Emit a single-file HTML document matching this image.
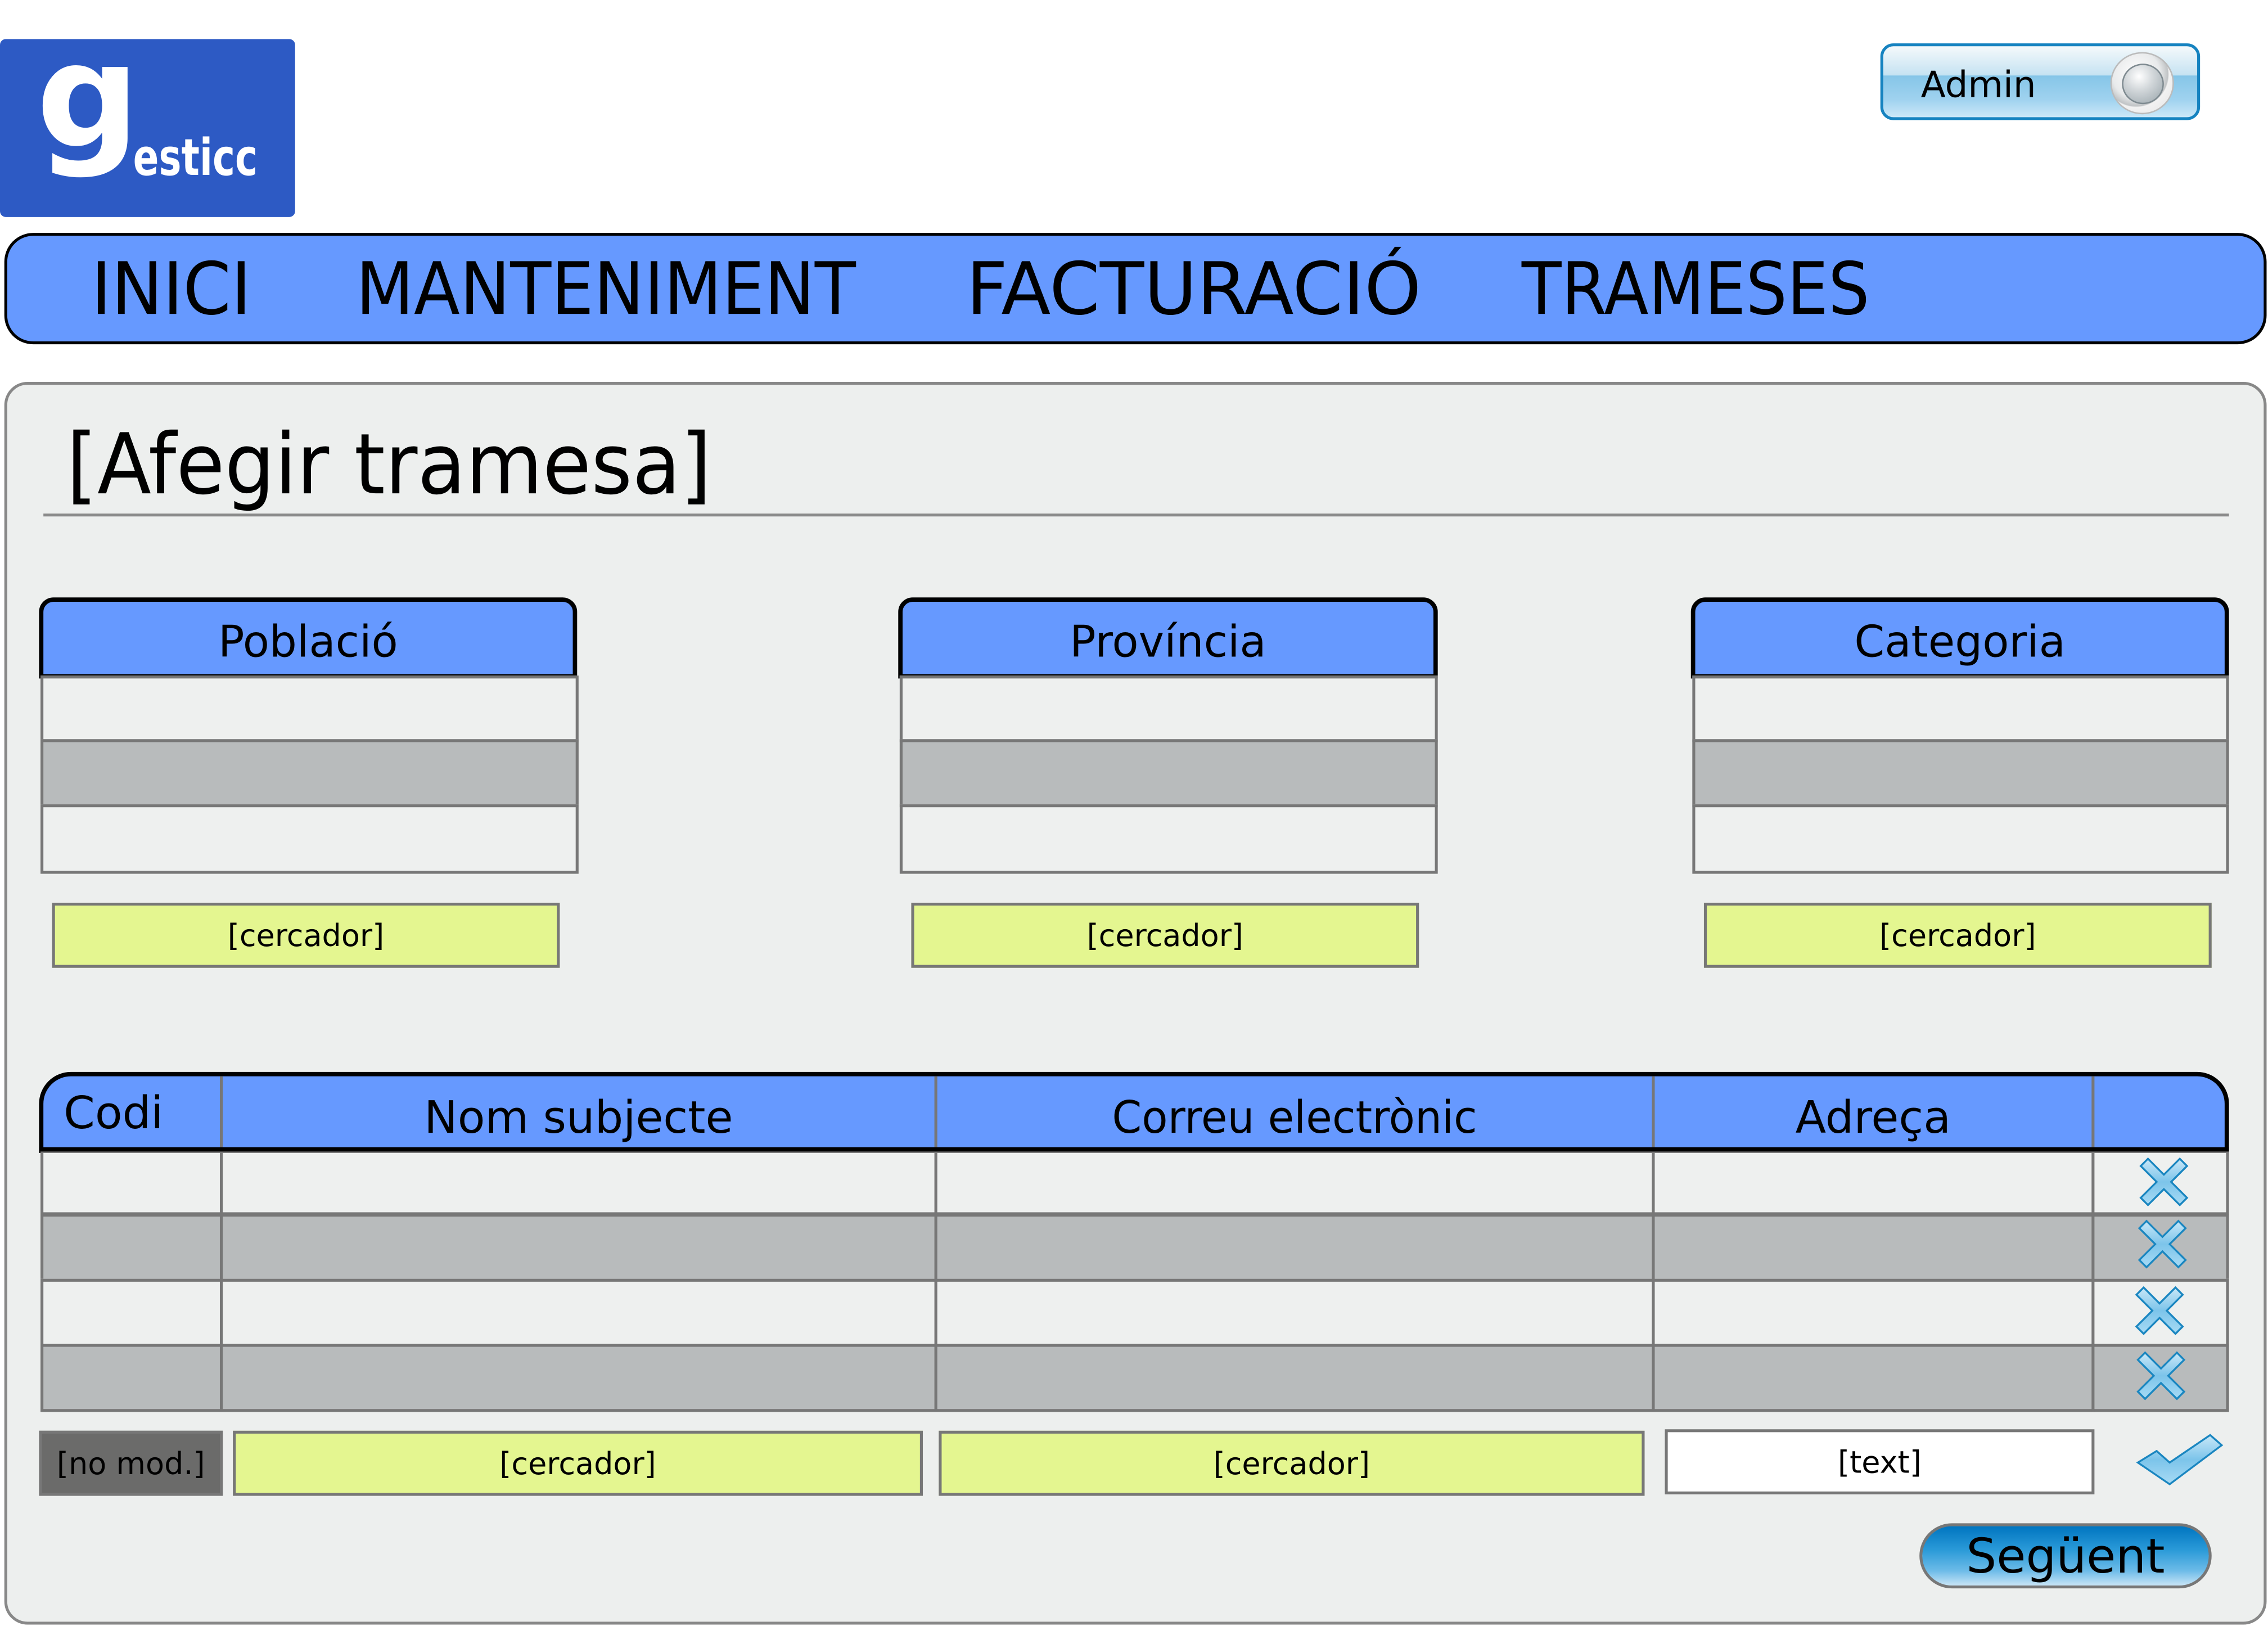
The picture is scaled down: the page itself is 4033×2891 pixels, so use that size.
<!DOCTYPE html>
<html><head><meta charset="utf-8">
<style>
html,body{margin:0;padding:0;background:#fff;}
body{width:4033px;height:2890px;overflow:hidden;position:relative;}
#w{position:absolute;left:0;top:0;width:1568px;height:1124px;transform:scale(2.5721);transform-origin:0 0;font-family:"DejaVu Sans","Liberation Sans",sans-serif;color:#000;}
.a{position:absolute;box-sizing:border-box;}
.t{position:absolute;white-space:nowrap;line-height:1;}
.hdr{background:#6699ff;border:3px solid #000;border-bottom:3px solid #000;border-radius:10px 10px 0 0;padding-top:6px;}
.row{background:#eef0ef;border:2px solid #777;}
.g{background:#b8bbbc;}
.yel{background:#e4f690;border:2px solid #777;display:flex;align-items:center;justify-content:center;font-size:21px;}
.ctr{display:flex;align-items:center;justify-content:center;}
</style></head><body>
<div id="w">
<!-- logo -->
<div class="a" style="left:0;top:27px;width:204px;height:123px;background:#2d5ac4;border-radius:4px;"></div>
<div class="t" style="left:25px;top:17px;font-size:100px;font-weight:bold;color:#fff;">g</div>
<div class="t" style="left:92px;top:93px;font-size:35px;font-weight:bold;color:#fff;transform:scaleX(0.75);transform-origin:0 0;">esticc</div>

<!-- admin -->
<div class="a" style="left:1300px;top:30px;width:221px;height:53px;border:2px solid #1683c0;border-radius:9px;background:linear-gradient(#f4f9fb 0%,#c6e3f2 40%,#86c6e8 42%,#9fd2ef 75%,#cce8f8 100%);"></div>
<div class="t" style="left:1328px;top:46px;font-size:25px;">Admin</div>
<div class="a" style="left:1459px;top:36px;width:44px;height:43px;border-radius:50%;background:radial-gradient(circle at 40% 35%,#fff 0%,#e8eaeb 45%,#c0c3c5 60%,#f2f2f2 62%,#e4e4e4 100%);border:1px solid #bbb;"></div>
<div class="a" style="left:1467px;top:44px;width:29px;height:28px;border-radius:50%;background:radial-gradient(circle at 40% 30%,#fff 0%,#d2d7da 40%,#98a4aa 100%);border:1px solid #7e8a90;"></div>

<!-- nav -->
<div class="a" style="left:3px;top:161px;width:1564px;height:77px;background:#6699ff;border:2px solid #000;border-radius:20px;"></div>
<div class="t" style="left:63px;top:175px;font-size:50px;transform:scaleX(0.95);transform-origin:0 0;">INICI</div>
<div class="t" style="left:246px;top:175px;font-size:50px;transform:scaleX(0.93);transform-origin:0 0;">MANTENIMENT</div>
<div class="t" style="left:668px;top:175px;font-size:50px;transform:scaleX(1.0);transform-origin:0 0;">FACTURACIÓ</div>
<div class="t" style="left:1052px;top:175px;font-size:50px;transform:scaleX(0.9);transform-origin:0 0;">TRAMESES</div>

<!-- panel -->
<div class="a" style="left:3px;top:264px;width:1564px;height:859px;background:#edefee;border:2px solid #888;border-radius:16px;"></div>
<div class="t" style="left:46px;top:292px;font-size:58px;transform:scaleX(0.94);transform-origin:0 0;">[Afegir tramesa]</div>
<div class="a" style="left:30px;top:355px;width:1511px;height:2px;background:#8a8a8a;"></div>

<!-- lists -->
<div class="a hdr ctr" style="left:27px;top:413px;width:372px;height:56px;font-size:30px;">Població</div>
<div class="a row" style="left:28px;top:467px;width:372px;height:46px;"></div>
<div class="a row g" style="left:28px;top:511px;width:372px;height:47px;"></div>
<div class="a row" style="left:28px;top:556px;width:372px;height:48px;"></div>
<div class="a yel" style="left:36px;top:624px;width:351px;height:45px;">[cercador]</div>

<div class="a hdr ctr" style="left:621px;top:413px;width:373px;height:56px;font-size:30px;">Província</div>
<div class="a row" style="left:622px;top:467px;width:372px;height:46px;"></div>
<div class="a row g" style="left:622px;top:511px;width:372px;height:47px;"></div>
<div class="a row" style="left:622px;top:556px;width:372px;height:48px;"></div>
<div class="a yel" style="left:630px;top:624px;width:351px;height:45px;">[cercador]</div>

<div class="a hdr ctr" style="left:1169px;top:413px;width:372px;height:56px;font-size:30px;">Categoria</div>
<div class="a row" style="left:1170px;top:467px;width:371px;height:46px;"></div>
<div class="a row g" style="left:1170px;top:511px;width:371px;height:47px;"></div>
<div class="a row" style="left:1170px;top:556px;width:371px;height:48px;"></div>
<div class="a yel" style="left:1178px;top:624px;width:351px;height:45px;">[cercador]</div>

<!-- big table -->
<div class="a" style="left:27px;top:741px;width:1514px;height:56px;background:#6699ff;border:3px solid #000;border-radius:22px 22px 0 0;"></div>
<div class="a" style="left:28px;top:795px;width:1513px;height:45px;background:#eef0ef;border:2px solid #777;"></div>
<div class="a" style="left:28px;top:839px;width:1513px;height:47px;background:#b8bbbc;border:2px solid #777;"></div>
<div class="a" style="left:28px;top:884px;width:1513px;height:47px;background:#eef0ef;border:2px solid #777;"></div>
<div class="a" style="left:28px;top:929px;width:1513px;height:47px;background:#b8bbbc;border:2px solid #777;"></div>
<div class="a" style="left:152px;top:744px;width:2px;height:232px;background:#777;"></div>
<div class="a" style="left:646px;top:744px;width:2px;height:232px;background:#777;"></div>
<div class="a" style="left:1142px;top:744px;width:2px;height:232px;background:#777;"></div>
<div class="a" style="left:1446px;top:744px;width:2px;height:232px;background:#777;"></div>
<div class="a" style="left:27px;top:793px;width:1514px;height:3px;background:#000;"></div>
<div class="t" style="left:44px;top:755px;font-size:31px;">Codi</div>
<div class="a ctr" style="left:154px;top:750px;width:492px;height:45px;font-size:31px;">Nom subjecte</div>
<div class="a ctr" style="left:648px;top:750px;width:494px;height:45px;font-size:31px;transform:scaleX(0.95);">Correu electrònic</div>
<div class="a ctr" style="left:1144px;top:750px;width:302px;height:45px;font-size:31px;">Adreça</div>

<!-- crosses -->
<svg class="a" style="left:0;top:0;" width="1568" height="1124">
<defs>
<linearGradient id="xg" x1="0" y1="0" x2="0" y2="1"><stop offset="0" stop-color="#c9e8f8"/><stop offset="0.5" stop-color="#7cc4ea"/><stop offset="1" stop-color="#a8dbf5"/></linearGradient>
<g id="x"><polygon points="-16,-11 -11,-16 0,-5 11,-16 16,-11 5,0 16,11 11,16 0,5 -11,16 -16,11 -5,0" fill="url(#xg)" stroke="#1a86c0" stroke-width="1.3"/></g>
</defs>
<use href="#x" x="1496" y="817"/>
<use href="#x" x="1495" y="860"/>
<use href="#x" x="1493" y="906"/>
<use href="#x" x="1494" y="951"/>
<polygon points="1478,1011 1491,1003 1500,1011 1528,992 1536,999 1500,1026" fill="url(#xg)" stroke="#1a86c0" stroke-width="1.3"/>
</svg>

<!-- bottom inputs -->
<div class="a ctr" style="left:27px;top:989px;width:127px;height:45px;background:#6b6b6a;border:2px solid #777;font-size:21px;">[no mod.]</div>
<div class="a yel" style="left:161px;top:989px;width:477px;height:45px;">[cercador]</div>
<div class="a yel" style="left:649px;top:989px;width:488px;height:45px;">[cercador]</div>
<div class="a ctr" style="left:1151px;top:988px;width:297px;height:45px;background:#fff;border:2px solid #777;font-size:21px;">[text]</div>

<!-- button -->
<div class="a ctr" style="left:1327px;top:1053px;width:202px;height:45px;border:2px solid #777;border-radius:23px;background:linear-gradient(#0075c0 0%,#2a9ad8 40%,#6cbbe8 75%,#c8e4f6 100%);font-size:33px;">Següent</div>
</div>
</body></html>
